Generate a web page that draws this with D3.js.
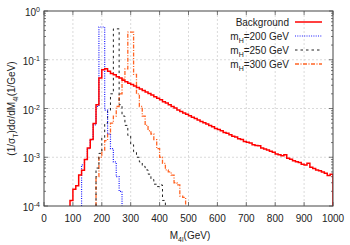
<!DOCTYPE html>
<html>
<head>
<meta charset="utf-8">
<script src="https://cdn.jsdelivr.net/npm/d3@7"></script>
<style>
body { margin: 0; background: #fff; }
text { font-family: "Liberation Sans", Arial, sans-serif; fill: #222; }
</style>
</head>
<body>
<div class="chart"></div>
<script>
// histogram bins are 10 GeV wide, values are (1/sigma) dsigma/dM per bin
var binWidth = 10;

var bgStart = 90;
var bgValues = [1.3e-4, 2.2e-4, 2.6e-4, 4.3e-4, 5.4e-4, 9e-4, 1.55e-3, 2.3e-3, 4.9e-3, 0.012,
	0.042, 0.062, 0.065, 0.058, 0.052, 0.049, 0.045, 0.042, 0.038, 0.0355,
	0.033, 0.031, 0.029, 0.027, 0.025, 0.0234, 0.0219, 0.0204, 0.019, 0.0174,
	0.0162, 0.0151, 0.0138, 0.0129, 0.012, 0.011, 0.0102, 0.0093, 0.0087, 0.0081,
	0.0076, 0.0071, 0.0066, 0.0062, 0.0058, 0.0054, 0.0051, 0.0048, 0.0045, 0.0042,
	0.0039, 0.0037, 0.0035, 0.0032, 0.0031, 0.0029, 0.0027, 0.0026, 0.0024, 0.0023,
	0.0021, 0.00204, 0.00195, 0.0018, 0.00174, 0.00172, 0.00155, 0.00148, 0.00141, 0.00132,
	0.00126, 0.00117, 0.00112, 0.00107, 0.00112, 0.00095, 0.00091, 0.00085, 0.00081, 0.00078,
	0.00072, 0.00069, 0.00075, 0.00062, 0.00059, 0.00055, 0.00053, 0.0005, 0.00047, 0.00042,
	0.00045];

var h200Start = 130;
var h200Values = [7e-4, 9e-4, 1.5e-3, 2.3e-3, 4.6e-3, 0.011, 0.47, 0.47, 0.0093, 3e-3,
	1.5e-3, 8e-4, 4e-4, 2e-4];

var h250Start = 180;
var h250Values = [6e-4, 1.2e-3, 2.5e-3, 5e-3, 9e-3, 0.02, 0.43, 0.43, 0.012, 7e-3,
	4.5e-3, 2.8e-3, 1.8e-3, 1.3e-3, 1e-3, 8e-4, 6.5e-4, 5.5e-4, 4.5e-4, 3.5e-4,
	2.8e-4, 2.5e-4, 2.7e-4, 1.3e-4];

var h300Start = 180;
var h300Values = [4e-4, 1e-3, 1.4e-3, 2.2e-3, 3e-3, 5e-3, 7e-3, 0.011, 0.02, 0.04,
	0.065, 0.37, 0.37, 0.05, 0.02, 0.011, 7e-3, 4.5e-3, 3.5e-3, 3e-3,
	2.3e-3, 1.5e-3, 1e-3, 7.5e-4, 5.5e-4, 5e-4, 4.3e-4, 3e-4, 2.7e-4, 1.6e-4,
	1.5e-4];

var xTicks = [0, 100, 200, 300, 400, 500, 600, 700, 800, 900, 1000];
var yTicks = [1e-4, 1e-3, 1e-2, 1e-1, 1];

var series = [
	{name: 'Background', sub: null, start: bgStart, values: bgValues, color: '#ff0000', width: 1.5, dash: null},
	{name: '=200 GeV', sub: 'H', start: h200Start, values: h200Values, color: '#1a1aff', width: 1.2, dash: '1,1.3'},
	{name: '=250 GeV', sub: 'H', start: h250Start, values: h250Values, color: '#222', width: 1, dash: '2.5,3'},
	{name: '=300 GeV', sub: 'H', start: h300Start, values: h300Values, color: '#ff6424', width: 1.3, dash: '4,1.5,1,1.5'}
];

var WIDTH = 350, HEIGHT = 245;
var LEFT = 44, RIGHT = 333, TOP = 11, BOTTOM = 206;

var svg = d3.select('.chart').append('svg')
	.attr('width', WIDTH)
	.attr('height', HEIGHT);

var xScale = d3.scaleLinear().domain([0, 1000]).range([LEFT, RIGHT]);
var yScale = d3.scaleLog().domain([1e-4, 1]).range([BOTTOM, TOP]);

// grid
svg.append('g').selectAll('line').data(xTicks.slice(1, -1)).enter().append('line')
	.attr('x1', function(d){ return xScale(d); })
	.attr('x2', function(d){ return xScale(d); })
	.attr('y1', TOP).attr('y2', BOTTOM)
	.attr('stroke', '#d0d0d0').attr('stroke-dasharray', '2,2').attr('stroke-width', 0.8);
svg.append('g').selectAll('line').data(yTicks.slice(1, -1)).enter().append('line')
	.attr('y1', function(d){ return yScale(d); })
	.attr('y2', function(d){ return yScale(d); })
	.attr('x1', LEFT).attr('x2', RIGHT)
	.attr('stroke', '#d0d0d0').attr('stroke-dasharray', '2,2').attr('stroke-width', 0.8);

// ticks, inward on all four sides
var minorY = [];
yTicks.slice(0, -1).forEach(function(t){
	for (var k = 2; k < 10; k++) minorY.push(t * k);
});
var tickGroup = svg.append('g').attr('stroke', '#555').attr('stroke-width', 0.8);
xTicks.forEach(function(d){
	tickGroup.append('line').attr('x1', xScale(d)).attr('x2', xScale(d)).attr('y1', BOTTOM).attr('y2', BOTTOM - 4);
	tickGroup.append('line').attr('x1', xScale(d)).attr('x2', xScale(d)).attr('y1', TOP).attr('y2', TOP + 4);
});
yTicks.forEach(function(d){
	tickGroup.append('line').attr('y1', yScale(d)).attr('y2', yScale(d)).attr('x1', LEFT).attr('x2', LEFT + 4);
	tickGroup.append('line').attr('y1', yScale(d)).attr('y2', yScale(d)).attr('x1', RIGHT).attr('x2', RIGHT - 4);
});
minorY.forEach(function(d){
	tickGroup.append('line').attr('y1', yScale(d)).attr('y2', yScale(d)).attr('x1', LEFT).attr('x2', LEFT + 2);
	tickGroup.append('line').attr('y1', yScale(d)).attr('y2', yScale(d)).attr('x1', RIGHT).attr('x2', RIGHT - 2);
});

// histograms
svg.append('clipPath').attr('id', 'plotClip').append('rect')
	.attr('x', LEFT).attr('y', TOP).attr('width', RIGHT - LEFT).attr('height', BOTTOM - TOP);

var stepLine = d3.line()
	.curve(d3.curveStepAfter)
	.x(function(d){ return xScale(d[0]); })
	.y(function(d){ return yScale(d[1]); });

var histPoints = function(s) {
	var pts = [[s.start, 1e-4]];
	s.values.forEach(function(v, i){ pts.push([s.start + i * binWidth, v]); });
	var end = s.start + s.values.length * binWidth;
	pts.push([end, s.values[s.values.length - 1]]);
	pts.push([end, 1e-4]);
	return pts;
};

var plot = svg.append('g').attr('clip-path', 'url(#plotClip)');
series.slice().reverse().forEach(function(s){
	plot.append('path')
		.datum(histPoints(s))
		.attr('d', stepLine)
		.attr('fill', 'none')
		.attr('stroke', s.color)
		.attr('stroke-width', s.width)
		.attr('stroke-dasharray', s.dash);
});

// frame
svg.append('rect')
	.attr('x', LEFT).attr('y', TOP).attr('width', RIGHT - LEFT).attr('height', BOTTOM - TOP)
	.attr('fill', 'none').attr('stroke', '#444').attr('stroke-width', 1);

// tick labels
svg.append('g').selectAll('text').data(xTicks).enter().append('text')
	.attr('x', function(d){ return xScale(d); })
	.attr('y', BOTTOM + 16)
	.attr('text-anchor', 'middle')
	.attr('font-size', 10)
	.text(function(d){ return d; });

var yLabels = svg.append('g').selectAll('text').data(yTicks).enter().append('text')
	.attr('x', LEFT - 4)
	.attr('y', function(d){ return yScale(d) + 5; })
	.attr('text-anchor', 'end')
	.attr('font-size', 10);
yLabels.append('tspan').text('10');
yLabels.append('tspan').attr('dy', -4).attr('font-size', 7)
	.text(function(d){ var e = Math.round(Math.log10(d)); return e === 0 ? '0' : '-' + (-e); });

// axis titles
var xTitle = svg.append('text').attr('x', 190).attr('y', 239).attr('text-anchor', 'middle').attr('font-size', 10);
xTitle.append('tspan').text('M');
xTitle.append('tspan').attr('dy', 3).attr('font-size', 7).text('4l');
xTitle.append('tspan').attr('dy', -3).text('(GeV)');

var yTitle = svg.append('text')
	.attr('transform', 'translate(15,' + ((TOP + BOTTOM) / 2) + ') rotate(-90)')
	.attr('text-anchor', 'middle').attr('font-size', 10);
yTitle.append('tspan').text('(1/σ');
yTitle.append('tspan').attr('dy', 3).attr('font-size', 7).text('T');
yTitle.append('tspan').attr('dy', -3).text(')dσ/dM');
yTitle.append('tspan').attr('dy', 3).attr('font-size', 7).text('4l');
yTitle.append('tspan').attr('dy', -3).text('(1/GeV)');

// legend
var legend = svg.append('g');
series.forEach(function(s, i){
	var ly = 22 + i * 14;
	var t = legend.append('text').attr('x', 289).attr('y', ly + 3.5).attr('text-anchor', 'end').attr('font-size', 10);
	if (s.sub) {
		t.append('tspan').text('m');
		t.append('tspan').attr('dy', 3).attr('font-size', 7).text(s.sub);
		t.append('tspan').attr('dy', -3).text(s.name);
	} else {
		t.text(s.name);
	}
	legend.append('line')
		.attr('x1', 295).attr('x2', 322).attr('y1', ly).attr('y2', ly)
		.attr('stroke', s.color).attr('stroke-width', s.width).attr('stroke-dasharray', s.dash);
});
</script>
</body>
</html>
